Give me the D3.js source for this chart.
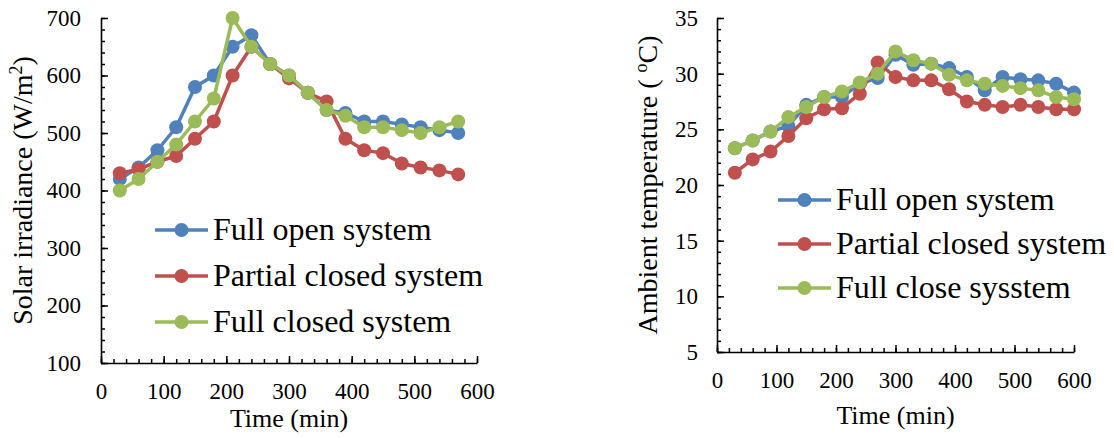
<!DOCTYPE html>
<html>
<head>
<meta charset="utf-8">
<script src="https://cdn.jsdelivr.net/npm/d3@7"></script>
<style>
  body { margin: 0; background: #fff; }
  svg text { font-family: "Liberation Serif", "Times New Roman", serif; fill: #000; }
</style>
</head>
<body>
<svg id="chart" width="1114" height="438"></svg>
<script>
'use strict';

// left panel: solar irradiance
var timeLeft = [30, 60, 90, 120, 150, 180, 210, 240, 270, 300, 330, 360, 390, 420, 450, 480, 510, 540, 570];
var solarOpen = [420, 440, 470, 510, 580, 600, 650, 670, 620, 600, 570, 540, 535, 520, 520, 515, 510, 505, 500];
var solarPartial = [430, 437, 450, 460, 490, 520, 600, 650, 620, 595, 570, 555, 490, 470, 465, 447, 440, 435, 428];
var solarClosed = [400, 420, 450, 480, 520, 560, 700, 650, 620, 600, 570, 540, 530, 510, 510, 505, 500, 510, 520];
var solarLabels = ['Full open system', 'Partial closed system', 'Full closed system'];

// right panel: ambient temperature
var timeRight = [30, 60, 90, 120, 150, 180, 210, 240, 270, 300, 330, 360, 390, 420, 450, 480, 510, 540, 570, 600];
var tempOpen = [23.3, 24.0, 24.8, 25.3, 27.2, 27.9, 27.9, 29.1, 29.6, 31.7, 30.8, 30.9, 30.5, 29.7, 28.5, 29.7, 29.5, 29.4, 29.1, 28.3];
var tempPartial = [21.1, 22.3, 23.0, 24.4, 26.0, 26.8, 26.9, 28.2, 31.0, 29.7, 29.4, 29.4, 28.6, 27.5, 27.2, 27.0, 27.2, 27.0, 26.8, 26.8];
var tempClosed = [23.3, 24.0, 24.8, 26.1, 27.0, 27.9, 28.4, 29.2, 30.0, 32.0, 31.2, 30.9, 29.9, 29.4, 29.1, 28.9, 28.7, 28.5, 27.9, 27.7];
var tempLabels = ['Full open system', 'Partial closed system', 'Full close sysstem'];

var xTicks = [0, 100, 200, 300, 400, 500, 600];
var solarTicks = [100, 200, 300, 400, 500, 600, 700];
var tempTicks = [5, 10, 15, 20, 25, 30, 35];

var colors = ['#4F81BD', '#C0504D', '#9BBB59'];

var svg = d3.select('#chart');

function drawPanel(cfg) {
  var x = d3.scaleLinear().domain([0, 600]).range(cfg.xRange),
      y = d3.scaleLinear().domain(cfg.yDomain).range(cfg.yRange),
      g = svg.append('g');

  // minor ticks (inside)
  g.append('g').attr('transform', 'translate(0,' + cfg.yRange[0] + ')')
    .call(d3.axisBottom(x).tickValues(d3.range(0, 601, 20)).tickSize(-4).tickFormat(''))
    .call(function (a) { a.select('.domain').remove(); });
  g.append('g').attr('transform', 'translate(' + cfg.xRange[0] + ',0)')
    .call(d3.axisLeft(y).tickValues(d3.range(cfg.yDomain[0], cfg.yDomain[1] + 0.001, cfg.yMinor)).tickSize(-4).tickFormat(''))
    .call(function (a) { a.select('.domain').remove(); });

  // major ticks + labels
  var xa = g.append('g').attr('transform', 'translate(0,' + cfg.yRange[0] + ')')
    .call(d3.axisBottom(x).tickValues(xTicks).tickSize(-7).tickPadding(cfg.xPad).tickSizeOuter(0));
  var ya = g.append('g').attr('transform', 'translate(' + cfg.xRange[0] + ',0)')
    .call(d3.axisLeft(y).tickValues(cfg.yTicks).tickSize(-7).tickPadding(cfg.yPad).tickSizeOuter(0));
  [xa, ya].forEach(function (a) {
    a.attr('font-family', null).attr('font-size', null);
    a.selectAll('text').style('font-size', '23px');
    a.selectAll('line, path').attr('stroke', '#000').attr('stroke-width', 1.6);
  });
  g.selectAll('.tick line').attr('stroke', '#000').attr('stroke-width', 1.5);

  // axis titles
  g.append('text')
    .attr('x', (cfg.xRange[0] + cfg.xRange[1]) / 2).attr('y', cfg.xTitleY)
    .attr('text-anchor', 'middle').style('font-size', '26px')
    .text('Time (min)');
  var yt = g.append('text')
    .attr('transform', 'translate(' + cfg.yTitleX + ',' + (cfg.yRange[0] + cfg.yRange[1]) / 2 + ') rotate(-90)')
    .attr('text-anchor', 'middle').style('font-size', '28px');
  cfg.yTitle(yt);

  // series
  var line = d3.line()
    .x(function (d) { return x(d[0]); })
    .y(function (d) { return y(d[1]); });
  cfg.series.forEach(function (vals, i) {
    var pts = cfg.times.map(function (t, j) { return [t, vals[j]]; });
    var s = g.append('g');
    s.append('path').datum(pts).attr('d', line)
      .attr('fill', 'none').attr('stroke', colors[i]).attr('stroke-width', 3.5)
      .attr('stroke-linejoin', 'round');
    s.selectAll('circle').data(pts).enter().append('circle')
      .attr('cx', function (d) { return x(d[0]); })
      .attr('cy', function (d) { return y(d[1]); })
      .attr('r', 7).attr('fill', colors[i]);
  });

  // legend
  var lg = g.append('g');
  cfg.labels.forEach(function (lab, i) {
    var ly = cfg.legendY[i], lx = cfg.legendX;
    lg.append('line').attr('x1', lx).attr('x2', lx + 53).attr('y1', ly).attr('y2', ly)
      .attr('stroke', colors[i]).attr('stroke-width', 3.5);
    lg.append('circle').attr('cx', lx + 26.5).attr('cy', ly).attr('r', 7).attr('fill', colors[i]);
    lg.append('text').attr('x', lx + 58).attr('y', ly + 10)
      .style('font-size', '32px').text(lab);
  });
}

drawPanel({
  xRange: [101, 477],
  yDomain: [100, 700],
  yRange: [363, 18],
  yMinor: 20,
  yTicks: solarTicks,
  xPad: 20,
  yPad: 20,
  xTitleY: 427,
  yTitleX: 32,
  yTitle: function (t) {
    t.append('tspan').text('Solar irradiance (W/m');
    t.append('tspan').attr('dy', -10).style('font-size', '18px').text('2');
    t.append('tspan').attr('dy', 10).text(')');
  },
  times: timeLeft,
  series: [solarOpen, solarPartial, solarClosed],
  labels: solarLabels,
  legendX: 155,
  legendY: [230, 276, 322]
});

drawPanel({
  xRange: [717, 1074],
  yDomain: [5, 35],
  yRange: [352, 18],
  yMinor: 1,
  yTicks: tempTicks,
  xPad: 20,
  yPad: 19,
  xTitleY: 424,
  yTitleX: 657,
  yTitle: function (t) {
    t.append('tspan').text('Ambient temperature ( ');
    t.append('tspan').attr('dy', -10).style('font-size', '18px').text('o');
    t.append('tspan').attr('dy', 10).text('C)');
  },
  times: timeRight,
  series: [tempOpen, tempPartial, tempClosed],
  labels: tempLabels,
  legendX: 778,
  legendY: [200, 244, 288]
});
</script>
</body>
</html>
